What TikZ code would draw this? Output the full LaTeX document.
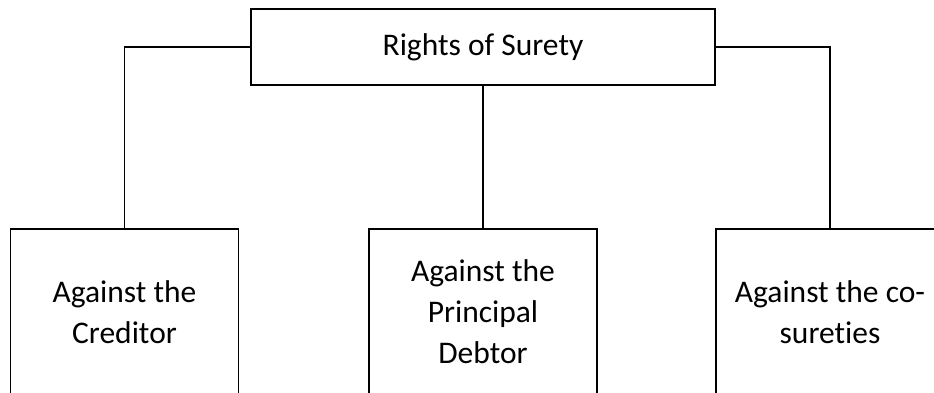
\documentclass[tikz,border=0pt]{standalone}
\usepackage{fontspec}
\setmainfont{Carlito}[Ligatures=NoCommon]
\begin{document}
\begin{tikzpicture}[x=1pt,y=-1pt,
  heading/.style={draw=black,line width=1.8pt,rectangle,minimum width=464pt,minimum height=76pt,inner sep=0pt},
  branch/.style={draw=black,line width=1.5pt,rectangle,anchor=north,minimum width=228pt,minimum height=166pt,inner sep=0pt,align=center,
    font=\fontsize{31.5pt}{41pt}\selectfont},
  link/.style={draw=black,line width=1.5pt}]
\useasboundingbox (0,0) rectangle (934,392);
\clip (0,0) rectangle (934,392);
\fill[white] (0,0) rectangle (934,392);

\node[heading,font=\fontsize{31.5pt}{41pt}\selectfont] (top) at (483,47) {Rights of Surety};

\node[branch] (cred) at (124.5,228) {Against the\\Creditor};
\node[branch] (debt) at (483,228) {Against the\\Principal\\Debtor};
\node[branch] (cosu) at (830,228) {Against the co-\\sureties};

\draw[link] (top.west) -| (cred.north);
\draw[link] (top.south) -- (debt.north);
\draw[link] (top.east) -| (cosu.north);
\end{tikzpicture}
\end{document}
